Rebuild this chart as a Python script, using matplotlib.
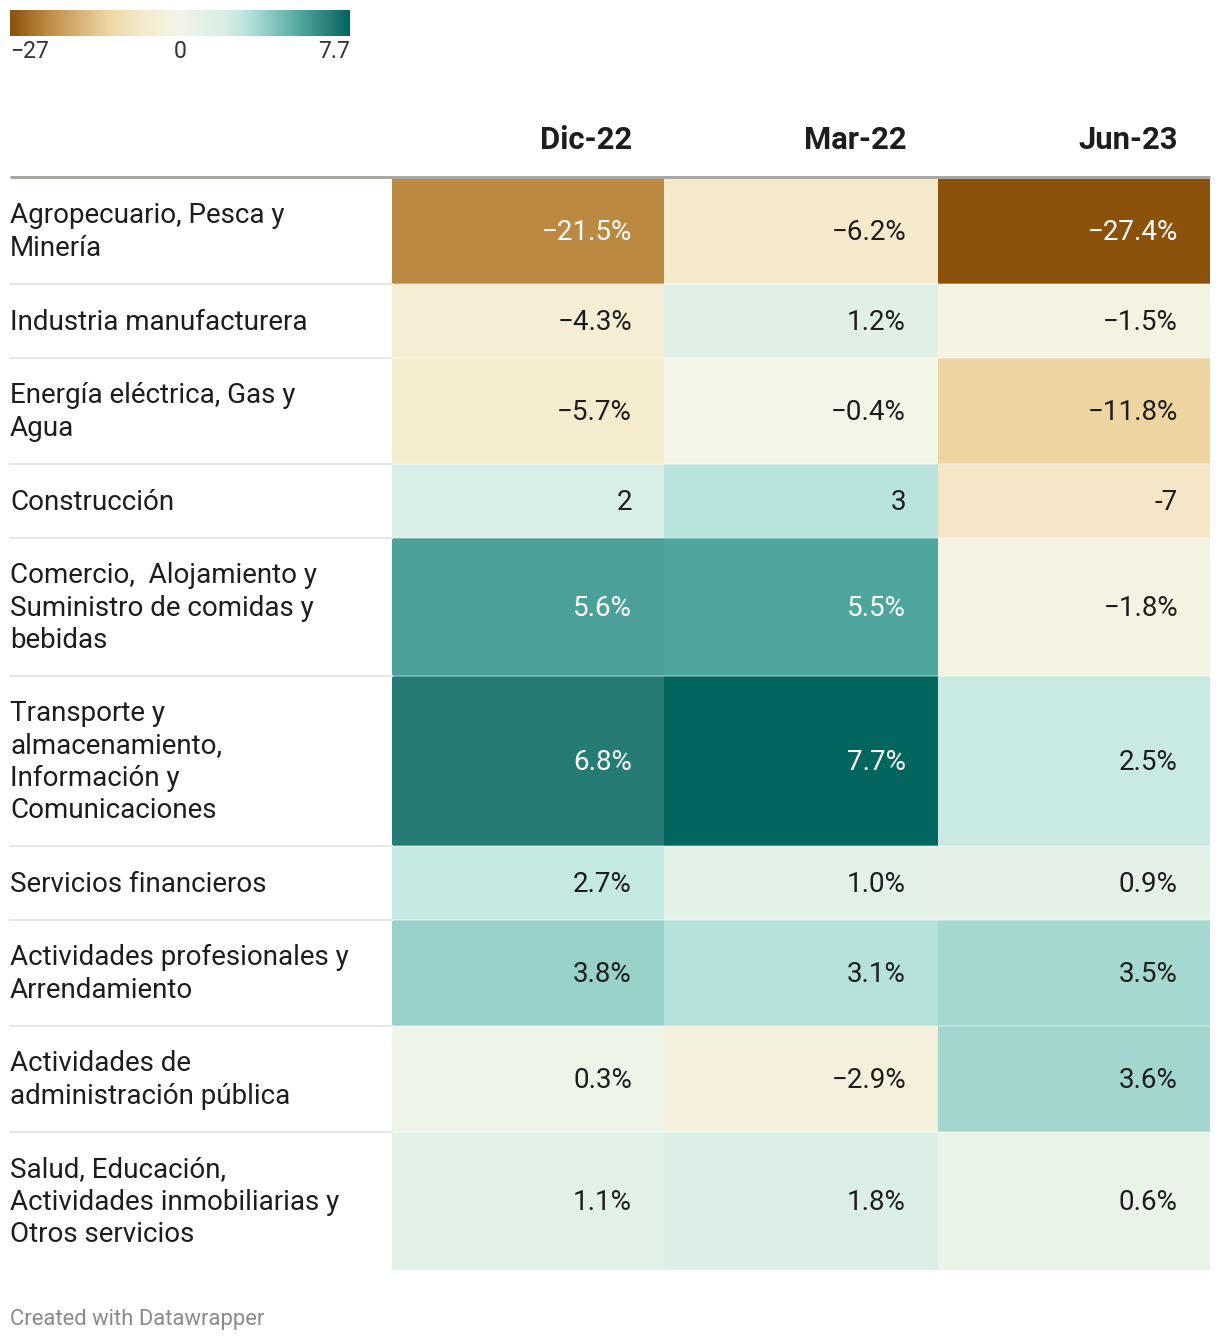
import numpy as np
import matplotlib.pyplot as plt
from matplotlib.colors import LinearSegmentedColormap, TwoSlopeNorm

plt.rcParams['font.family'] = ['Roboto', 'DejaVu Sans']

# data
sectors = [
    "Agropecuario, Pesca y\nMinería",
    "Industria manufacturera",
    "Energía eléctrica, Gas y\nAgua",
    "Construcción",
    "Comercio,  Alojamiento y\nSuministro de comidas y\nbebidas",
    "Transporte y\nalmacenamiento,\nInformación y\nComunicaciones",
    "Servicios financieros",
    "Actividades profesionales y\nArrendamiento",
    "Actividades de\nadministración pública",
    "Salud, Educación,\nActividades inmobiliarias y\nOtros servicios",
]
columns = ["Dic-22", "Mar-22", "Jun-23"]
dic22 = [-21.5, -4.3, -5.7, 2, 5.6, 6.8, 2.7, 3.8, 0.3, 1.1]
mar22 = [-6.2, 1.2, -0.4, 3, 5.5, 7.7, 1.0, 3.1, -2.9, 1.8]
jun23 = [-27.4, -1.5, -11.8, -7, -1.8, 2.5, 0.9, 3.5, 3.6, 0.6]
# cells shown without decimals / percent sign
plain_cells = {(3, 0), (3, 1), (3, 2)}
legend_ticks = [-27, 0, 7.7]

vals = np.array([dic22, mar22, jun23]).T

# colour scale (two slopes around 0, like the legend)
vmin, vmax = -27.4, 7.7
norm = TwoSlopeNorm(vmin=vmin, vcenter=0, vmax=vmax)
stops = [(-27.4, "#8c510a"), (-21.5, "#bc8a42"), (-11.8, "#eed5a2"),
         (-6, "#f5eacd"), (-1.5, "#f4f3e2"), (0, "#f3f5ea"), (1, "#e3f1e6"),
         (2, "#d9eee6"), (2.5, "#c8eae3"), (2.8, "#c1e6e1"), (3.1, "#b5e1db"),
         (3.7, "#9ed4cd"), (5.5, "#4fa69e"), (6.8, "#287e77"),
         (7.7, "#02655e")]
cmap = LinearSegmentedColormap.from_list(
    "dw", [(float(norm(v)), c) for v, c in stops])

W, H = 1220, 1344
fig = plt.figure(figsize=(W / 100, H / 100), dpi=100)
ax = fig.add_axes([0, 0, 1, 1])
ax.set_xlim(0, W)
ax.set_ylim(H, 0)
ax.axis("off")

px = 0.72  # pixel -> point
fs = 27.8 * px

# row layout from number of text lines
top = 178
yedges = [top]
for s in sectors:
    yedges.append(yedges[-1] + 42 + 32 * (s.count("\n") + 1))
xedges = [392, 664, 938, 1210]

ax.pcolormesh(xedges, yedges, vals, cmap=cmap, norm=norm)

# header
for j, c in enumerate(columns):
    ax.text(xedges[j + 1] - 32, 140, c, ha="right", va="center",
            fontsize=31 * px, fontweight="bold", color="#1d1d1d")
ax.plot([10, 1210], [177, 177], color="#aaa6a2", lw=3 * px,
        solid_capstyle="butt")

# separators
for y in yedges[1:-1]:
    ax.plot([10, 392], [y, y], color="#e6e6e6", lw=2 * px)
    ax.plot([392, 1210], [y, y], color="white", alpha=0.3, lw=2 * px)

# labels and values
for i, s in enumerate(sectors):
    yc = (yedges[i] + yedges[i + 1]) / 2
    ax.text(10, yc + 1, s, ha="left", va="center", fontsize=fs,
            color="#1d1d1d", linespacing=1.26)
    for j in range(3):
        v = vals[i, j]
        if (i, j) in plain_cells:
            t = "%g" % v
        else:
            t = ("%.1f%%" % v).replace("-", "\u2212")
        r, g, b, _ = cmap(norm(v))
        lum = 0.299 * r + 0.587 * g + 0.114 * b
        col = "white" if lum < 0.6 else "#1d1d1d"
        ax.text(xedges[j + 1] - 32, yc + 1, t, ha="right", va="center",
                fontsize=fs, color=col)

# legend gradient
lax = fig.add_axes([10 / W, 1 - 36 / H, 340 / W, 26 / H])
lax.imshow(np.linspace(0, 1, 512)[None, :], aspect="auto", cmap=cmap)
lax.axis("off")
lx = [10, 180, 350]
has = ["left", "center", "right"]
for k, t in enumerate(legend_ticks):
    lab = ("%g" % t).replace("-", "\u2212")
    ax.text(lx[k], 52, lab, ha=has[k], va="center", fontsize=23 * px,
            color="#333333")

ax.text(10, 1320, "Created with Datawrapper", ha="left", va="center",
        fontsize=22 * px, color="#8a8a8a")

fig.savefig("out.png", dpi=100)
